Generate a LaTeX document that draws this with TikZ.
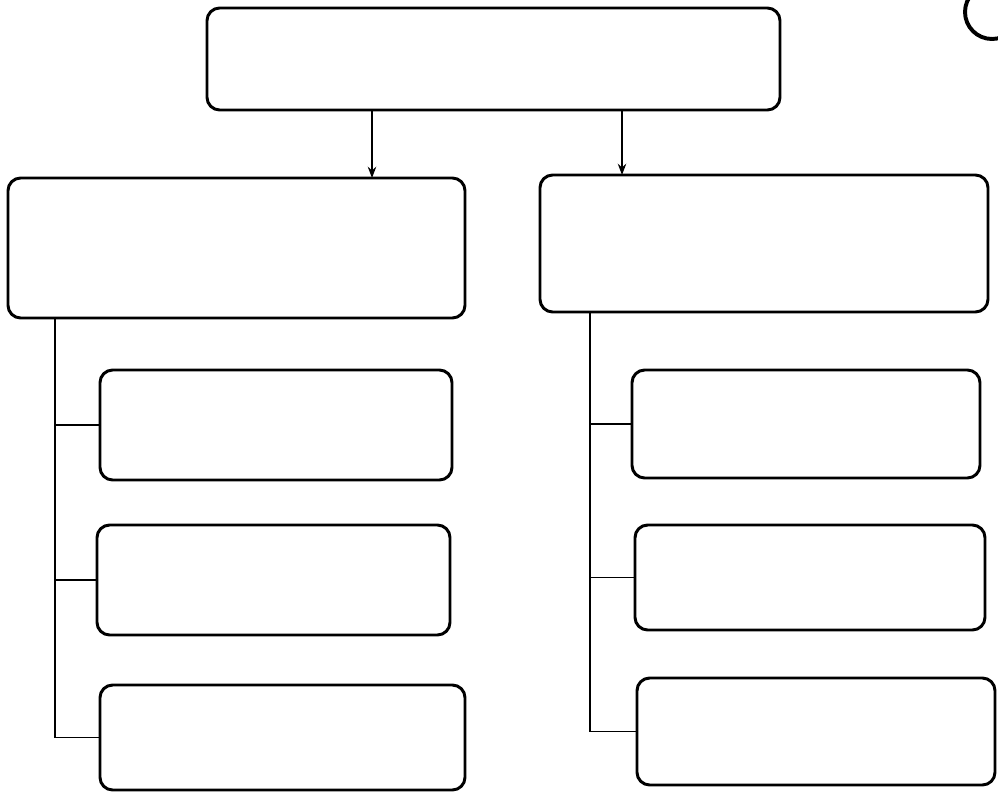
\documentclass[tikz,border=0pt]{standalone}
\usetikzlibrary{arrows.meta}
\begin{document}
\begin{tikzpicture}[
  box/.style={draw, line width=2.1pt, rounded corners=9pt, anchor=north west, inner sep=0pt, outer sep=0pt},
  conn/.style={line width=1.3pt},
  arr/.style={line width=1.3pt, -{Stealth[length=8pt,width=6pt]}}
]

% Frame
\useasboundingbox (0,0) rectangle (24.95,-19.825);

% Badge in the corner
\begin{scope}
  \clip (0,0) rectangle (24.95,-19.825);
  \draw[line width=2.8pt] (24.8,-0.3) circle (0.675);
\end{scope}

% Top box
\node[box, minimum width=14.325cm, minimum height=2.55cm] (top) at (5.175,-0.2) {};

% Second level
\node[box, minimum width=11.425cm, minimum height=3.5cm] (L) at (0.2,-4.45) {};
\node[box, minimum width=11.2cm, minimum height=3.425cm] (R) at (13.5,-4.375) {};

% Left children
\node[box, minimum width=8.8cm, minimum height=2.75cm] (l1) at (2.5,-9.25) {};
\node[box, minimum width=8.825cm, minimum height=2.75cm] (l2) at (2.425,-13.125) {};
\node[box, minimum width=9.125cm, minimum height=2.625cm] (l3) at (2.5,-17.125) {};

% Right children
\node[box, minimum width=8.7cm, minimum height=2.7cm] (r1) at (15.8,-9.25) {};
\node[box, minimum width=8.75cm, minimum height=2.625cm] (r2) at (15.875,-13.125) {};
\node[box, minimum width=8.95cm, minimum height=2.675cm] (r3) at (15.925,-16.95) {};

% Arrows from the top box
\coordinate (ta) at (9.3,0);
\coordinate (tb) at (15.55,0);
\draw[arr] (top.south -| ta) -- (L.north -| ta);
\draw[arr] (top.south -| tb) -- (R.north -| tb);

% Left tree
\coordinate (trunkL) at (1.375,0);
\draw[conn] (L.south -| trunkL) |- (l3.west);
\draw[conn] (trunkL |- l1.west) -- (l1.west);
\draw[conn] (trunkL |- l2.west) -- (l2.west);

% Right tree
\coordinate (trunkR) at (14.75,0);
\draw[conn] (R.south -| trunkR) |- (r3.west);
\draw[conn] (trunkR |- r1.west) -- (r1.west);
\draw[conn] (trunkR |- r2.west) -- (r2.west);

\end{tikzpicture}
\end{document}
